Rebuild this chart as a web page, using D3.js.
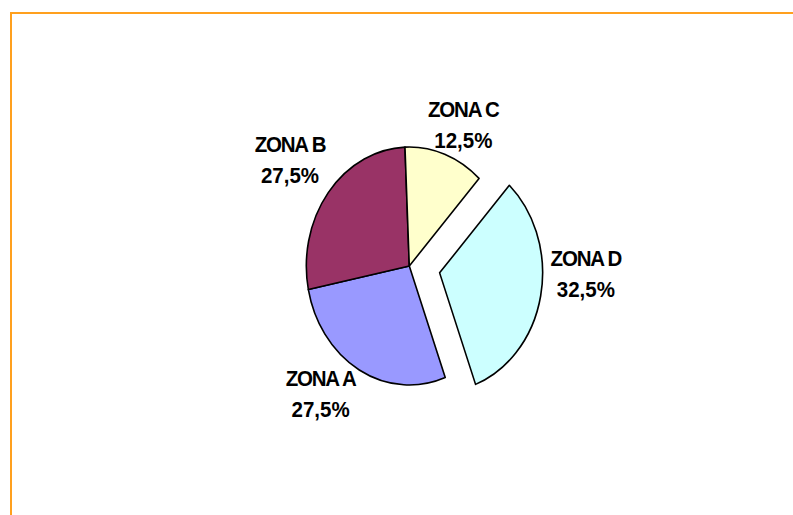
<!DOCTYPE html>
<html>
<head>
<meta charset="utf-8">
<script src="https://cdn.jsdelivr.net/npm/d3@7"></script>
<style>
  body { margin: 0; background: #fff; }
  svg { display: block; }
  text { font-family: "Liberation Sans", Arial, sans-serif; font-weight: bold; fill: #000; }
</style>
</head>
<body>
<script>
// data, in the order the series was drawn (clockwise from the first slice)
var zones = ["ZONA A", "ZONA B", "ZONA C", "ZONA D"];
var shares = [27.5, 27.5, 12.5, 32.5];
var pctLabels = ["27,5%", "27,5%", "12,5%", "32,5%"];
var exploded = ["ZONA D"];

var w = 793, h = 515;

// layout
var cx = 409.3, cy = 266, rx = 103, ry = 119;
var firstSliceAngle = 159.6;         // degrees, clockwise from 12 o'clock
var explodeFrac = 0.3;
// label placement: turn (deg) from the slice middle and distance (x radius)
var labelTurn = [9.5, -0.6, 3.9, -10.7];
var labelReach = [1.38, 1.46, 1.29, 1.42];
var textStretch = 1.09;              // the picture is a bit taller than wide

var color = d3.scaleOrdinal()
  .domain(zones)
  .range(["#9999FF", "#993366", "#FFFFCC", "#CCFFFF"]);

var svg = d3.select("body").append("svg")
  .attr("width", w)
  .attr("height", h);

// chart area border (only top and left edges are in view)
svg.append("path")
  .attr("d", "M11," + h + "V13H" + w)
  .attr("fill", "none")
  .attr("stroke", "#FFA01E")
  .attr("stroke-width", 2);

var start = firstSliceAngle * Math.PI / 180;
var pie = d3.pie().sort(null).value(function (d) { return d; })
  .startAngle(start).endAngle(start + 2 * Math.PI);
var arcs = pie(shares);

var arc = d3.arc().innerRadius(0).outerRadius(1);

function offsetOf(d) {
  if (exploded.indexOf(zones[d.index]) < 0) return [0, 0];
  var mid = (d.startAngle + d.endAngle) / 2;
  return [Math.sin(mid) * explodeFrac * rx, -Math.cos(mid) * explodeFrac * ry];
}

var pieG = svg.append("g")
  .attr("transform", "translate(" + cx + "," + cy + ")");

pieG.selectAll("path.slice")
  .data(arcs)
  .enter().append("path")
    .attr("class", "slice")
    .attr("transform", function (d) {
      var o = offsetOf(d);
      return "translate(" + o[0] + "," + o[1] + ") scale(" + rx + "," + ry + ")";
    })
    .attr("d", arc)
    .attr("fill", function (d) { return color(zones[d.index]); })
    .attr("stroke", "#000")
    .attr("stroke-width", 1.6)
    .attr("stroke-linejoin", "round")
    .attr("vector-effect", "non-scaling-stroke");

var labels = pieG.selectAll("g.lbl")
  .data(arcs)
  .enter().append("g")
    .attr("class", "lbl")
    .attr("transform", function (d) {
      var o = offsetOf(d);
      var a = (d.startAngle + d.endAngle) / 2 + labelTurn[d.index] * Math.PI / 180;
      var k = labelReach[d.index];
      var x = o[0] + Math.sin(a) * rx * k;
      var y = o[1] - Math.cos(a) * ry * k;
      return "translate(" + x + "," + y + ") scale(1," + textStretch + ")";
    });

labels.append("text")
  .attr("text-anchor", "middle")
  .attr("y", -8.5 / textStretch)
  .style("font-size", "20.5px")
  .style("letter-spacing", "-1.2px")
  .text(function (d) { return zones[d.index]; });

labels.append("text")
  .attr("text-anchor", "middle")
  .attr("y", 22.5 / textStretch)
  .style("font-size", "20.5px")
  .text(function (d) { return pctLabels[d.index]; });
</script>
</body>
</html>
